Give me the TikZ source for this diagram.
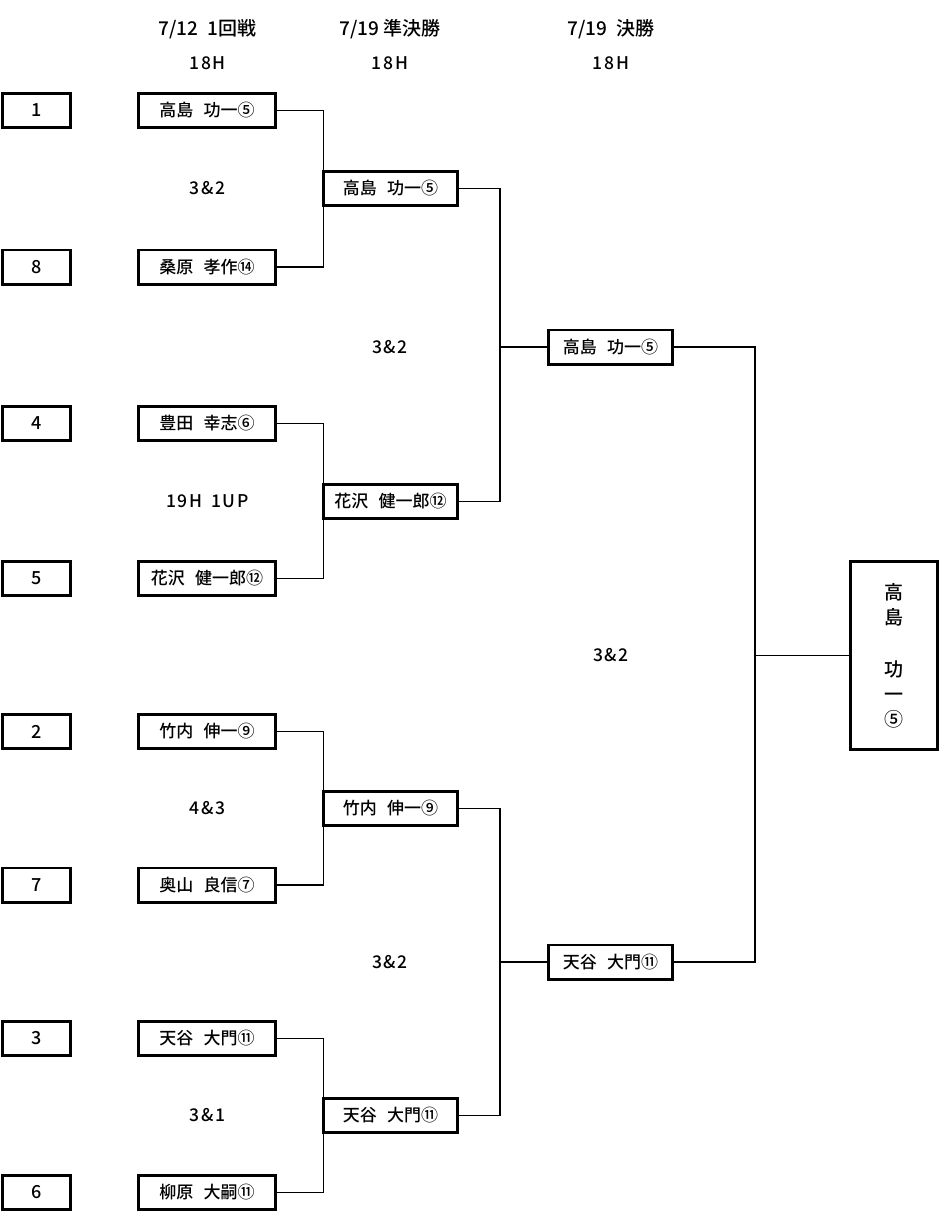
\documentclass[tikz,border=0pt]{standalone}
\usepackage{fontspec}
\setmainfont{Noto Sans CJK JP Medium}
\newfontfamily\latinf{Noto Sans CJK JP Medium}[LetterSpace=9]
\def\jsp{\hspace{0.6em}}
\begin{document}
\begin{tikzpicture}[x=1pt,y=-1pt,
  box/.style={draw, line width=2.6pt, inner sep=0pt, outer sep=0pt, minimum height=34.4pt, font=\fontsize{17}{20}\selectfont},
  seed/.style={box, minimum width=68.4pt, font=\latinf\fontsize{18}{20}\selectfont},
  rone/.style={box, minimum width=137.4pt},
  semi/.style={box, minimum width=134.4pt},
  fin/.style={box, minimum width=124.4pt},
  champ/.style={box, minimum width=87.4pt, minimum height=188.4pt, align=center, font=\fontsize{19}{25}\selectfont},
  link/.style={line width=1.4pt},
  lab/.style={font=\latinf\fontsize{17.5}{18}\selectfont},
  hdr/.style={font=\fontsize{19}{22}\selectfont},
  hdrb/.style={font=\latinf\fontsize{17.5}{18}\selectfont}]
\useasboundingbox (0,0) rectangle (939,1212);

% headers
\node[hdr] (h1) at (207.5,29) {7/12\hspace{0.5em}1回戦};
\node[hdr] (h2) at (390,29) {7/19 準決勝};
\node[hdr] (h3) at (611,29) {7/19\hspace{0.5em}決勝};
\node[hdrb] (g1) at (207.5,63) {18H};
\node[hdrb] (g2) at (390,63) {18H};
\node[hdrb] (g3) at (611,63) {18H};

% seeds
\node[seed] (s1) at (36.5,110.5) {1};
\node[seed] (s8) at (36.5,267) {8};
\node[seed] (s4) at (36.5,423.5) {4};
\node[seed] (s5) at (36.5,578.5) {5};
\node[seed] (s2) at (36.5,731.5) {2};
\node[seed] (s7) at (36.5,885) {7};
\node[seed] (s3) at (36.5,1038.5) {3};
\node[seed] (s6) at (36.5,1192.5) {6};

% round 1
\node[rone] (a1) at (207,110.5) {高島\jsp 功一⑤};
\node[rone] (a8) at (207,267) {桑原\jsp 孝作⑭};
\node[rone] (a4) at (207,423.5) {豊田\jsp 幸志⑥};
\node[rone] (a5) at (207,578.5) {花沢\jsp 健一郎⑫};
\node[rone] (a2) at (207,731.5) {竹内\jsp 伸一⑨};
\node[rone] (a7) at (207,885) {奥山\jsp 良信⑦};
\node[rone] (a3) at (207,1038.5) {天谷\jsp 大門⑪};
\node[rone] (a6) at (207,1192.5) {柳原\jsp 大嗣⑪};

% semifinals
\node[semi] (b1) at (390.5,188.5) {高島\jsp 功一⑤};
\node[semi] (b2) at (390.5,501.5) {花沢\jsp 健一郎⑫};
\node[semi] (b3) at (390.5,808.5) {竹内\jsp 伸一⑨};
\node[semi] (b4) at (390.5,1115.5) {天谷\jsp 大門⑪};

% finals
\node[fin] (c1) at (610.5,347) {高島\jsp 功一⑤};
\node[fin] (c2) at (610.5,962) {天谷\jsp 大門⑪};

% champion
\node[champ] (w) at (894,655.5) {高\\島\\[27pt]功\\一\\⑤};

% scores
\node[lab] (l1) at (207.5,188.5) {3\&2};
\node[lab] (l2) at (207.5,501.5) {19H\hspace{0.5em}1UP};
\node[lab] (l3) at (207.5,808.5) {4\&3};
\node[lab] (l4) at (207.5,1115.5) {3\&1};
\node[lab] (l5) at (390,347) {3\&2};
\node[lab] (l6) at (390,962) {3\&2};
\node[lab] (l7) at (611,655.5) {3\&2};

% junctions
\coordinate (j1) at (500,347);
\coordinate (j2) at (500,962);
\coordinate (j3) at (755,655.5);

% connectors round 1 -> semis
\draw[link] (a1.east) -| (b1.north west);
\draw[link] (a8.east) -| (b1.south west);
\draw[link] (a4.east) -| (b2.north west);
\draw[link] (a5.east) -| (b2.south west);
\draw[link] (a2.east) -| (b3.north west);
\draw[link] (a7.east) -| (b3.south west);
\draw[link] (a3.east) -| (b4.north west);
\draw[link] (a6.east) -| (b4.south west);

% semis -> finals
\draw[link] (b1.east) -| (j1) |- (b2.east);
\draw[link] (j1) -- (c1.west);
\draw[link] (b3.east) -| (j2) |- (b4.east);
\draw[link] (j2) -- (c2.west);

% finals -> champion
\draw[link] (c1.east) -| (j3) |- (c2.east);
\draw[link] (j3) -- (w.west);
\end{tikzpicture}
\end{document}
